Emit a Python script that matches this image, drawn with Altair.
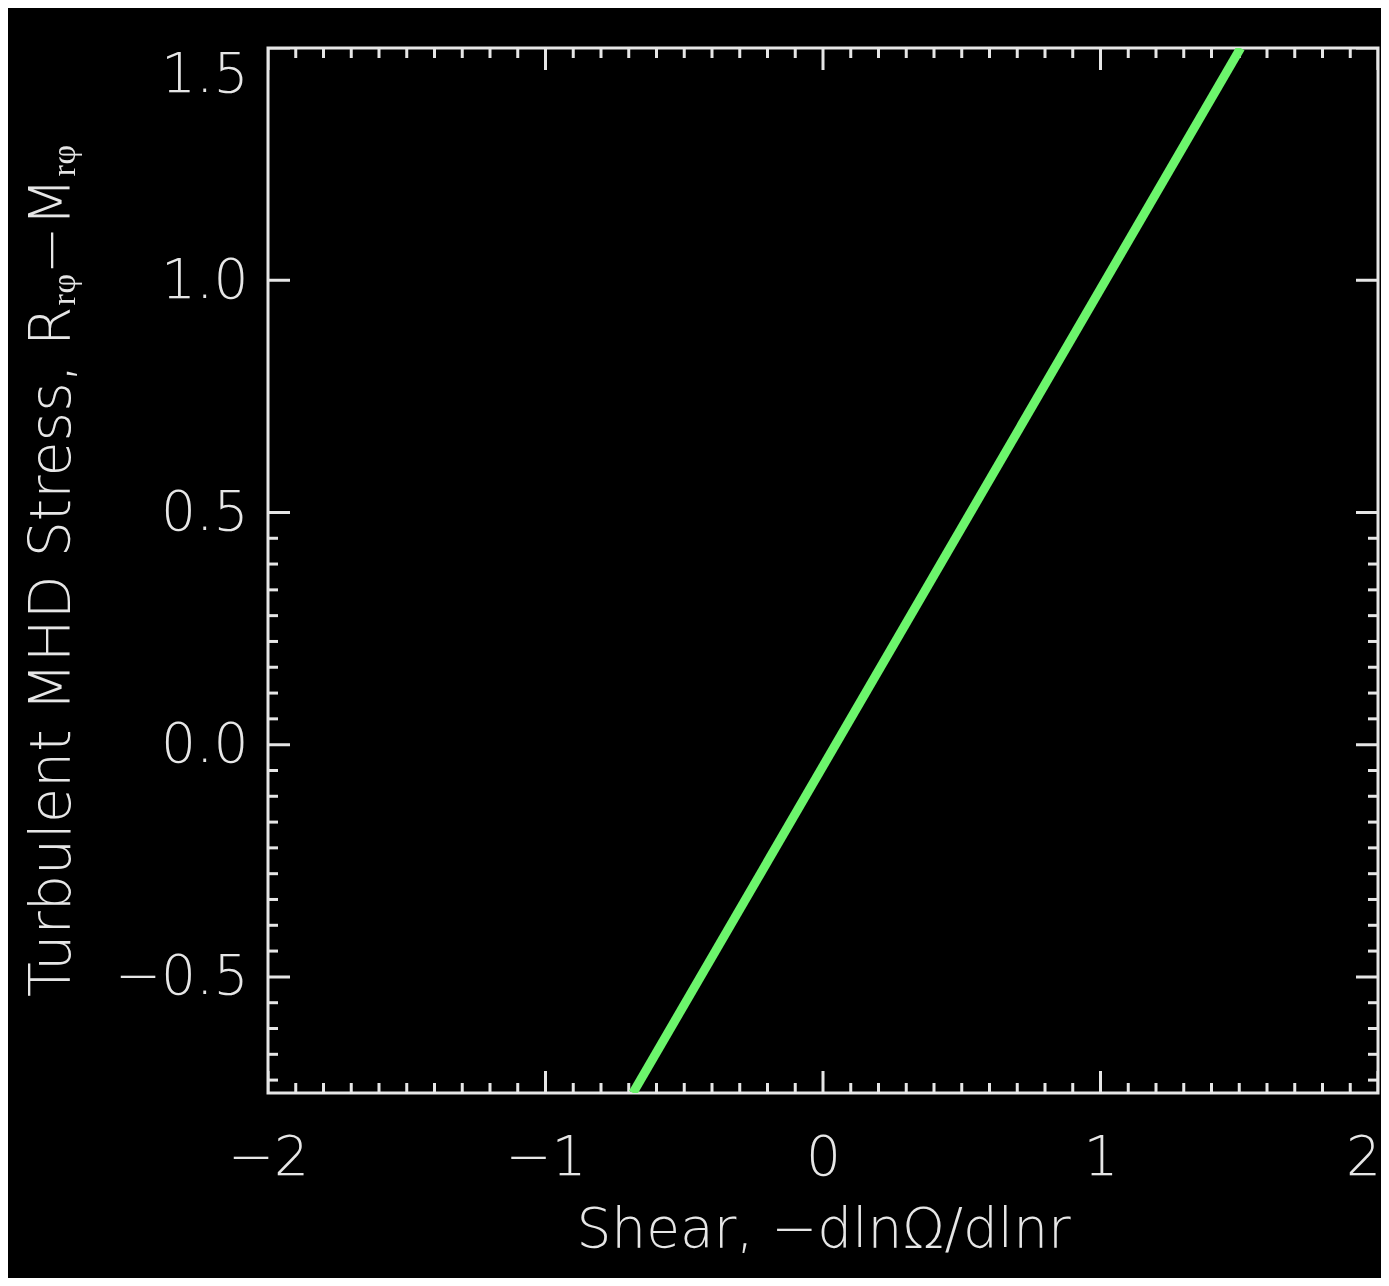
import altair as alt
import pandas as pd

# Data: the fitted relation (line end points)
shear = [-0.685, 1.505]
stress = [-0.75, 1.50]

x_domain = [-2, 2]
y_domain = [-0.75, 1.5]

x_major = [-2, -1, 0, 1, 2]
x_minor = [round(-2 + 0.1 * i, 2) for i in range(41) if i % 10 != 0]
y_major = [-0.5, 0.0, 0.5, 1.0, 1.5]
y_minor = [round(-0.5 + (0.5 / 9) * i, 4) for i in range(-4, 19) if i % 9 != 0]

FONT = "DejaVu Sans"
FG = "#e6e6e6"
GREEN = "#6cf56c"

line_df = pd.DataFrame({"x": shear, "y": stress})

xt_rows = []
for v in x_major:
    for edge in y_domain:
        xt_rows.append({"x": v, "y": edge, "len": 44})
for v in x_minor:
    for edge in y_domain:
        xt_rows.append({"x": v, "y": edge, "len": 20})
xt_df = pd.DataFrame(xt_rows)

yt_rows = []
for v in y_major:
    for edge in x_domain:
        yt_rows.append({"x": edge, "y": v, "len": 44})
for v in y_minor:
    for edge in x_domain:
        yt_rows.append({"x": edge, "y": v, "len": 20})
yt_df = pd.DataFrame(yt_rows)

xscale = alt.Scale(domain=x_domain, nice=False, zero=False)
yscale = alt.Scale(domain=y_domain, nice=False, zero=False)

line = alt.Chart(line_df).mark_line(color=GREEN, strokeWidth=9, clip=True).encode(
    x=alt.X("x:Q", scale=xscale,
            axis=alt.Axis(values=x_major, format="d",
                          title="Shear, \u2212dln\u03a9/dlnr",
                          ticks=False, domain=False, grid=False,
                          labelBaseline="middle", labelPadding=64,
                          labelOffset=alt.condition("datum.value == 2",
                                                    alt.value(-15),
                                                    alt.value(0)),
                          labelExpr="replace(datum.label, '-', '\u2212')",
                          titlePadding=18, titleBaseline="top")),
    y=alt.Y("y:Q", scale=yscale,
            axis=alt.Axis(values=y_major, format=".1f",
                          title="Turbulent MHD Stress, R\u1d63\u1d69\u2212M\u1d63\u1d69",
                          ticks=False, domain=False, grid=False,
                          labelAlign="right", labelPadding=20,
                          labelBaseline=alt.condition("datum.value == 1.5",
                                                      alt.value("top"),
                                                      alt.value("middle")),
                          labelExpr="replace(datum.label, '-', '\u2212')",
                          titlePadding=33, titleFontSize=57)),
)

xticks = alt.Chart(xt_df).mark_tick(orient="vertical", thickness=3, color=FG,
                                    clip=True, opacity=1).encode(
    x=alt.X("x:Q", scale=xscale),
    y=alt.Y("y:Q", scale=yscale),
    size=alt.Size("len:Q", scale=None, legend=None),
)

yticks = alt.Chart(yt_df).mark_tick(orient="horizontal", thickness=3, color=FG,
                                    clip=True, opacity=1).encode(
    x=alt.X("x:Q", scale=xscale),
    y=alt.Y("y:Q", scale=yscale),
    size=alt.Size("len:Q", scale=None, legend=None),
)

chart = alt.layer(xticks, yticks, line).properties(
    width=1110, height=1045,
    autosize=alt.AutoSizeParams(type="none"),
    padding={"left": 260, "top": 40, "right": 3, "bottom": 185},
    background="#000000",
).configure_view(
    fill="#000000", stroke=FG, strokeWidth=3,
).configure_axis(
    labelFont=FONT, labelFontSize=55, labelColor=FG, labelFontWeight=200,
    titleFont=FONT, titleFontSize=55, titleColor=FG, titleFontWeight=200,
    labelFlush=False, labelOverlap=False,
)

chart.save("out.html", embed_options={"renderer": "svg", "actions": False})
